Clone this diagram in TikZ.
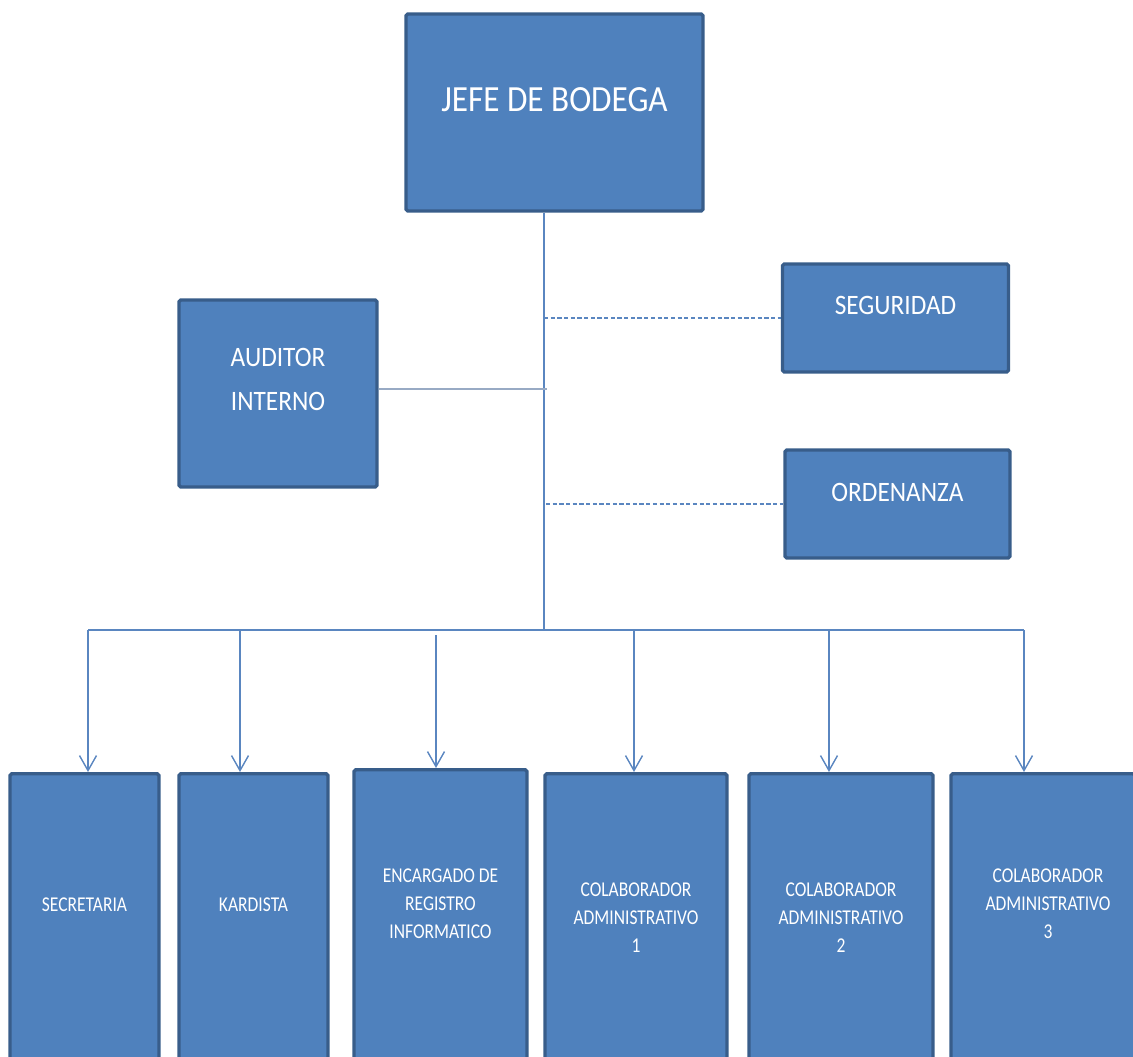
\documentclass[tikz,border=0pt]{standalone}
\usepackage{fontspec}
\setmainfont{Carlito}
\newfontfamily\condfont[FakeStretch=0.83]{Carlito}
\newfontfamily\narrowfont[FakeStretch=0.9]{Carlito}
\usepackage{tikz}
\usetikzlibrary{arrows.meta,positioning,calc}
\definecolor{boxblue}{HTML}{4F81BD}
\definecolor{boxedge}{HTML}{385D8A}
\definecolor{linkblue}{HTML}{5A86C0}
\definecolor{linkgray}{HTML}{98AAC4}

\begin{document}
\begin{tikzpicture}[
  box/.style    = {rectangle, rounded corners=1pt, draw=boxedge, fill=boxblue,
                   line width=1.9pt, inner sep=0pt},
  boss/.style   = {box, minimum width=59.4mm, minimum height=39.4mm},
  side/.style   = {box, minimum width=45.2mm, minimum height=21.6mm},
  unit/.style   = {box, anchor=north, minimum height=60mm},
  txt/.style    = {text=white, align=center, inner sep=0pt},
  bigtxt/.style = {txt, font=\narrowfont\fontsize{21}{25}\selectfont},
  midtxt/.style = {txt, font=\narrowfont\fontsize{16}{25.5}\selectfont},
  smltxt/.style = {txt, font=\condfont\fontsize{12}{15.9}\selectfont},
  link/.style   = {draw=linkblue, line width=0.8pt},
  arr/.style    = {link, -{Straight Barb[length=3mm,width=3.4mm]}},
  aux/.style    = {link, dash pattern=on 2.4pt off 1.4pt},
  staffl/.style = {draw=linkgray, line width=1pt}
]
\useasboundingbox (0,0) rectangle (22.66,21.12);

%%%%%%%%%%%%%%%%%%%%%%% TOP %%%%%%%%%%%%%%%%%%%%%%%%%%%%%%%%%
\node[boss] (jefe) at (11.09,18.87) {};
\node[bigtxt] (jefet) at ($(jefe)+(0,0.25)$) {JEFE DE BODEGA};

\node[box, minimum width=39.6mm, minimum height=37.4mm] (audit) at (5.56,13.25) {};
\node[midtxt] (auditt) at ($(audit)+(0,0.28)$) {AUDITOR\\INTERNO};

\node[side] (segur) at (17.91,14.76) {};
\node[midtxt] (segurt) at ($(segur)+(0,0.26)$) {SEGURIDAD};
\node[side, minimum width=45mm] (orden) at (17.95,11.04) {};
\node[midtxt] (ordent) at ($(orden)+(0,0.24)$) {ORDENANZA};

%%%%%%%%%%%%%%%%%%%%%%% BOTTOM %%%%%%%%%%%%%%%%%%%%%%%%%%%%%%
\node[unit, minimum width=29.8mm] (secr)  at ( 1.69,5.68) {};
\node[unit, minimum width=29.8mm] (kard)  at ( 5.07,5.68) {};
\node[unit, minimum width=34.6mm] (encar) at ( 8.81,5.76) {};
\node[unit, minimum width=36.4mm] (colab1) at (12.72,5.68) {};
\node[unit, minimum width=36.8mm] (colab2) at (16.82,5.68) {};
\node[unit, minimum width=36.8mm] (colab3) at (20.86,5.68) {};

\node[smltxt] (secrt)  at ($(secr)+(0,0.38)$)  {SECRETARIA};
\node[smltxt] (kardt)  at ($(kard)+(0,0.38)$)  {KARDISTA};
\node[smltxt] (encart) at ($(encar)+(0,0.32)$) {ENCARGADO DE\\REGISTRO\\INFORMATICO};
\node[smltxt] (colab1t) at ($(colab1)+(0,0.12)$) {COLABORADOR\\ADMINISTRATIVO\\1};
\node[smltxt] (colab2t) at ($(colab2)+(0,0.12)$) {COLABORADOR\\ADMINISTRATIVO\\2};
\node[smltxt] (colab3t) at ($(colab3)+(0.1,0.4)$) {COLABORADOR\\ADMINISTRATIVO\\3};

%%%%%%%%%%%%%%%%%%%%%%% LINKS %%%%%%%%%%%%%%%%%%%%%%%%%%%%%%%
\coordinate (hub) at (10.88,8.52);
\coordinate (d1) at ( 1.76,8.52);
\coordinate (d2) at ( 4.80,8.52);
\coordinate (d3) at ( 8.72,8.52);
\coordinate (d4) at (12.68,8.52);
\coordinate (d5) at (16.58,8.52);
\coordinate (d6) at (20.48,8.52);

\draw[link] (jefe.south -| hub) -- (hub);
\draw[link] (d1) -- (d6);
\draw[arr] (d1) -- (d1 |- secr.north);
\draw[arr] (d2) -- (d2 |- kard.north);
\draw[arr] ($(d3)+(0,-0.1)$) -- (d3 |- encar.north);
\draw[arr] (d4) -- (d4 |- colab1.north);
\draw[arr] (d5) -- (d5 |- colab2.north);
\draw[arr] (d6) -- (d6 |- colab3.north);

\draw[aux] (segur.west -| hub) -- (segur.west);
\draw[aux] ($(orden.west -| hub)+(0.04,0)$) -- (orden.west);
\draw[staffl] (audit.east |- 0,13.34) -- ($(hub |- 0,13.34)+(0.06,0)$);

\end{tikzpicture}
\end{document}
